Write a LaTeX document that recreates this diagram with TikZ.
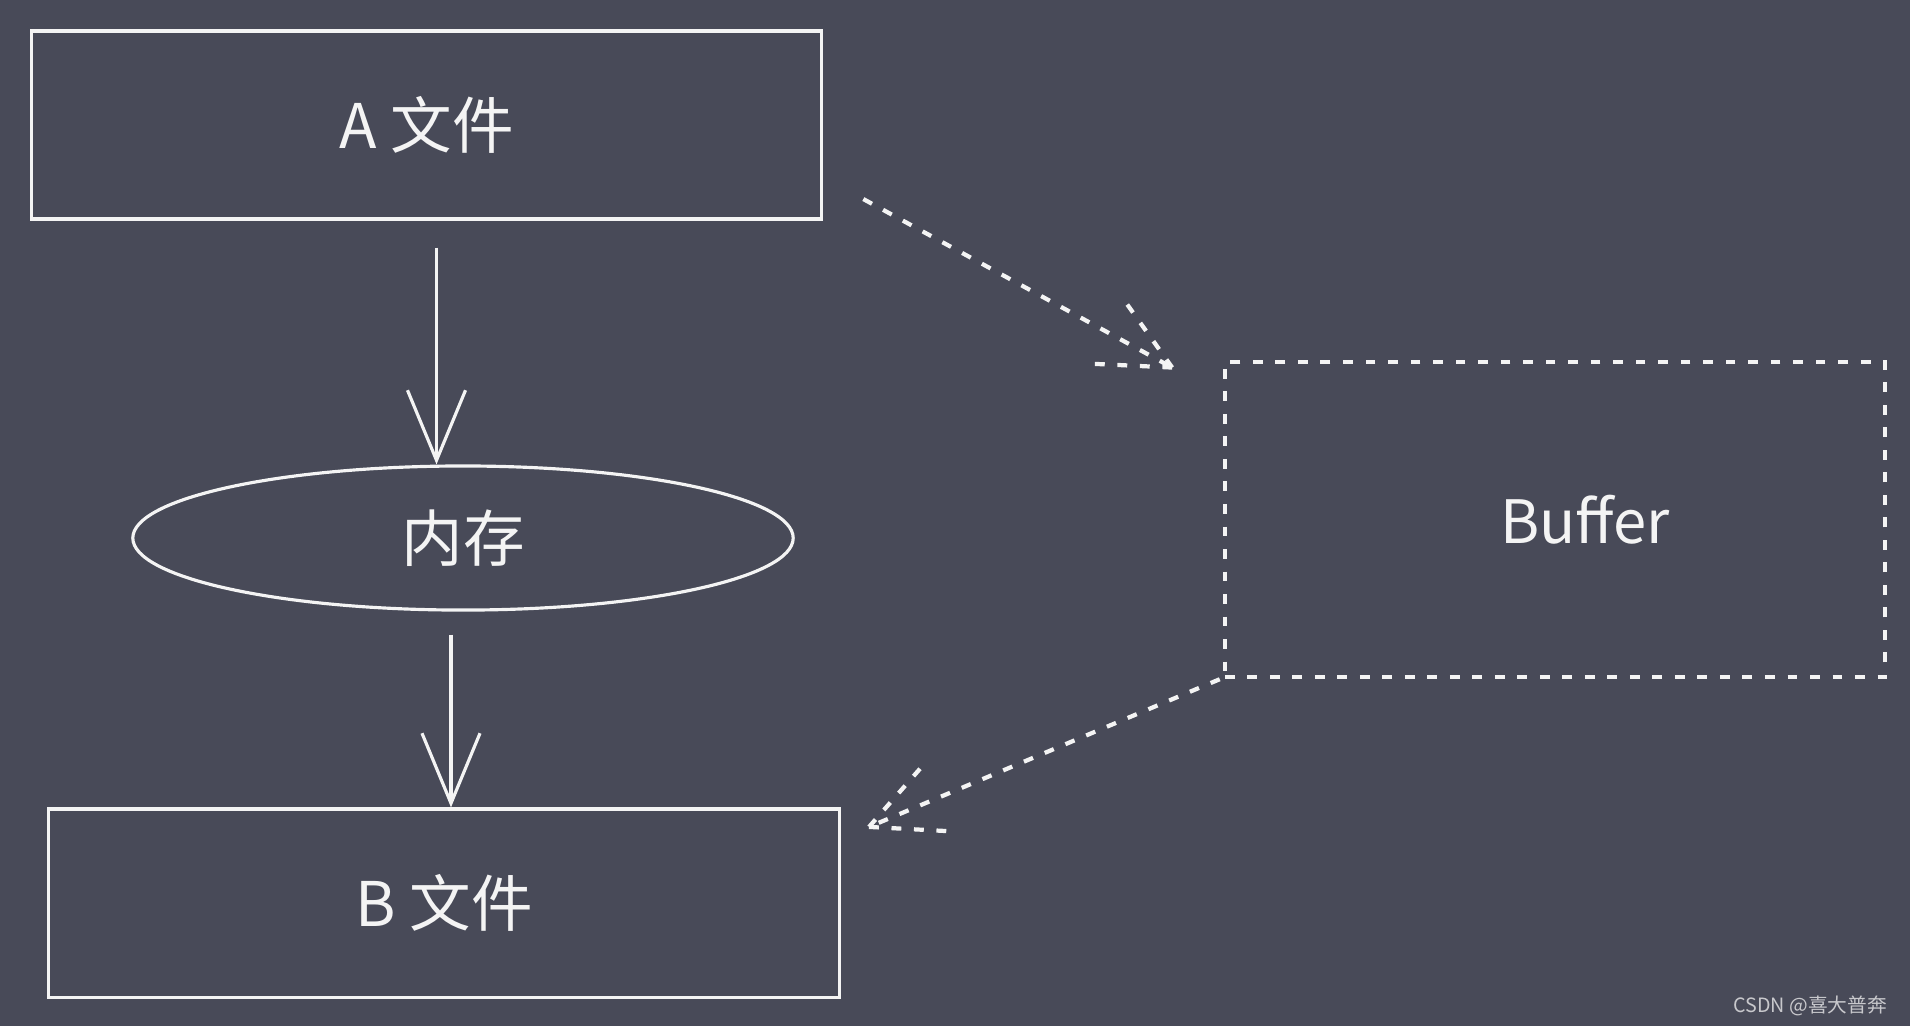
\documentclass[tikz,border=0pt]{standalone}
\usepackage{fontspec}
\setmainfont{Noto Sans CJK SC}
\usetikzlibrary{arrows.meta}
\usetikzlibrary{shapes.geometric}
\usetikzlibrary{decorations.markings}
\definecolor{board}{RGB}{72,74,88}
\definecolor{chalk}{RGB}{244,244,244}
\definecolor{mark}{RGB}{200,200,204}
\tikzset{chalkline/.style = {draw=chalk, line width=0.9pt},
         filebox/.style = {chalkline, minimum width=7.9cm, minimum height=1.88cm,
                           text=chalk, font=\fontsize{17.5}{20}\selectfont},
         membox/.style = {chalkline, ellipse, minimum width=6.6cm, minimum height=1.44cm,
                          text=chalk, font=\fontsize{17.5}{20}\selectfont},
         dots/.style = {draw=chalk, line width=1.2pt, dash pattern=on 2.8pt off 3.6pt},
         bufbox/.style = {dots, minimum width=6.6cm, minimum height=3.15cm,
                          text=chalk, font=\fontsize{17}{20}\selectfont},
         flow/.style = {chalkline, -{Straight Barb[length=7mm,width=5.8mm]}},
         dotflow/.style = {dots, decoration={markings,
                                   mark=at position 1 with {\draw[dots] (0,0) -- (-7mm,3.4mm);
                                                            \draw[dots] (0,0) -- (-7mm,-3.4mm);}},
                           postaction={decorate}}}

\begin{document}
\begin{tikzpicture}[x=0.01cm, y=-0.01cm]
      \fill[board] (0,0) rectangle (1910,1026);
      \useasboundingbox (0,0) rectangle (1910,1026);

      \node[filebox] (afile) at (426.5,125) {A 文件};
      \node[membox] (mem) at (463,538) {内存};
      \node[filebox] (bfile) at (444,903) {B 文件};
      \node[bufbox] (buf) at (1555,519.5) {\hspace*{6mm}Buffer};

      \draw[flow] ([xshift=1mm,yshift=-2.7mm]afile.south) coordinate (a1) -- (a1 |- mem.north);
      \draw[flow] ([xshift=-1.2mm,yshift=-2.3mm]mem.south) coordinate (m1) -- (m1 |- bfile.north);

      \draw[dotflow] ([xshift=4mm,yshift=-7.4mm]afile.east) -- ([xshift=-5mm,yshift=-0.8mm]buf.north west);
      \draw[dotflow] ([xshift=-0.3mm]buf.south west) -- ([xshift=2.8mm,yshift=7.6mm]bfile.east);

      \node[anchor=west, text=mark, font=\fontsize{5.6}{7}\selectfont] (credit) at (1721,1006) {CSDN @喜大普奔};
    \end{tikzpicture}
\end{document}
